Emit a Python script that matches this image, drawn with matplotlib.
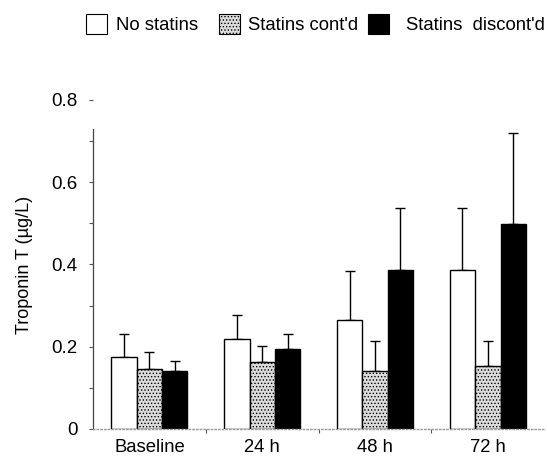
import matplotlib
matplotlib.use("Agg")
import matplotlib.pyplot as plt
from matplotlib.patches import Rectangle
import numpy as np

plt.rcParams['font.family'] = ['Liberation Sans', 'DejaVu Sans']
plt.rcParams['hatch.linewidth'] = 0.6
plt.rcParams['hatch.color'] = '#808080'

categories = ["Baseline", "24 h", "48 h", "72 h"]
series_names = ["No statins", "Statins cont'd", "Statins  discont'd"]
no_statins = [0.174, 0.218, 0.264, 0.386]
no_statins_err = [0.057, 0.060, 0.121, 0.151]
statins_contd = [0.146, 0.163, 0.142, 0.154]
statins_contd_err = [0.042, 0.039, 0.071, 0.061]
statins_discontd = [0.141, 0.195, 0.386, 0.498]
statins_discontd_err = [0.025, 0.036, 0.151, 0.222]
yticks = [0, 0.2, 0.4, 0.6, 0.8]
ytick_labels = ["0", "0.2", "0.4", "0.6", "0.8"]

W, H = 547, 457
fig = plt.figure(figsize=(W / 100, H / 100), dpi=100)
ax = fig.add_axes([0.170, 0.0613, 0.825, 0.72])

x = np.arange(len(categories))
w = 0.225
styles = [
    dict(facecolor='white', edgecolor='black', hatch=None),
    dict(facecolor='#dcdcdc', edgecolor='black', hatch='.....'),
    dict(facecolor='black', edgecolor='black', hatch=None),
]
vals = [no_statins, statins_contd, statins_discontd]
errs = [no_statins_err, statins_contd_err, statins_discontd_err]
for i, (v, e, st) in enumerate(zip(vals, errs, styles)):
    pos = x + (i - 1) * w
    ax.bar(pos, v, width=w, facecolor=st['facecolor'], edgecolor=st['edgecolor'],
           hatch=st['hatch'], linewidth=1.0, zorder=2)
    ax.errorbar(pos, v, yerr=[np.zeros(len(v)), e], fmt='none', ecolor='black',
                elinewidth=1.0, capsize=3.5, capthick=1.0, zorder=1)

ax.set_xlim(-0.5, 3.5)
ax.set_ylim(0, 0.8)
ax.set_yticks(yticks)
ax.set_yticklabels(ytick_labels, fontsize=13.5)
ax.set_yticks([0.1, 0.3, 0.5, 0.7], minor=True)
ax.set_xticks(x)
ax.set_xticklabels(categories, fontsize=13.3)
ax.tick_params(axis='x', which='major', length=0, pad=7)
ax.set_xticks([0.5, 1.5, 2.5], minor=True)
ax.tick_params(axis='x', which='minor', length=3, width=0.8, color='#555555')
ax.tick_params(axis='y', which='both', length=3, width=0.8, color='#555555', pad=8)

for s in ['top', 'right']:
    ax.spines[s].set_visible(False)
ax.spines['left'].set_color('#444444')
ax.spines['left'].set_linewidth(0.9)
ax.spines['left'].set_bounds(0, 0.73)
ax.spines['bottom'].set_color('#999999')
ax.spines['bottom'].set_linestyle(':')
ax.spines['bottom'].set_linewidth(1.0)

ax.set_ylabel("Troponin T (µg/L)", fontsize=13, labelpad=13)

# legend across the top, placed in figure pixel coordinates
box_x = [86, 219, 368]
text_x = [116, 248, 406]
box_w, box_h = 21, 20
yc = 24
text_base = 30
for bx, tx, st, name in zip(box_x, text_x, styles, series_names):
    r = Rectangle((bx / W, 1 - (yc + box_h / 2) / H), box_w / W, box_h / H,
                  transform=fig.transFigure, facecolor=st['facecolor'],
                  edgecolor='black', hatch=st['hatch'], linewidth=0.8)
    fig.patches.append(r)
    fig.text(tx / W, 1 - text_base / H, name, fontsize=13.3, ha='left', va='baseline')

fig.savefig("out.png", dpi=100)
